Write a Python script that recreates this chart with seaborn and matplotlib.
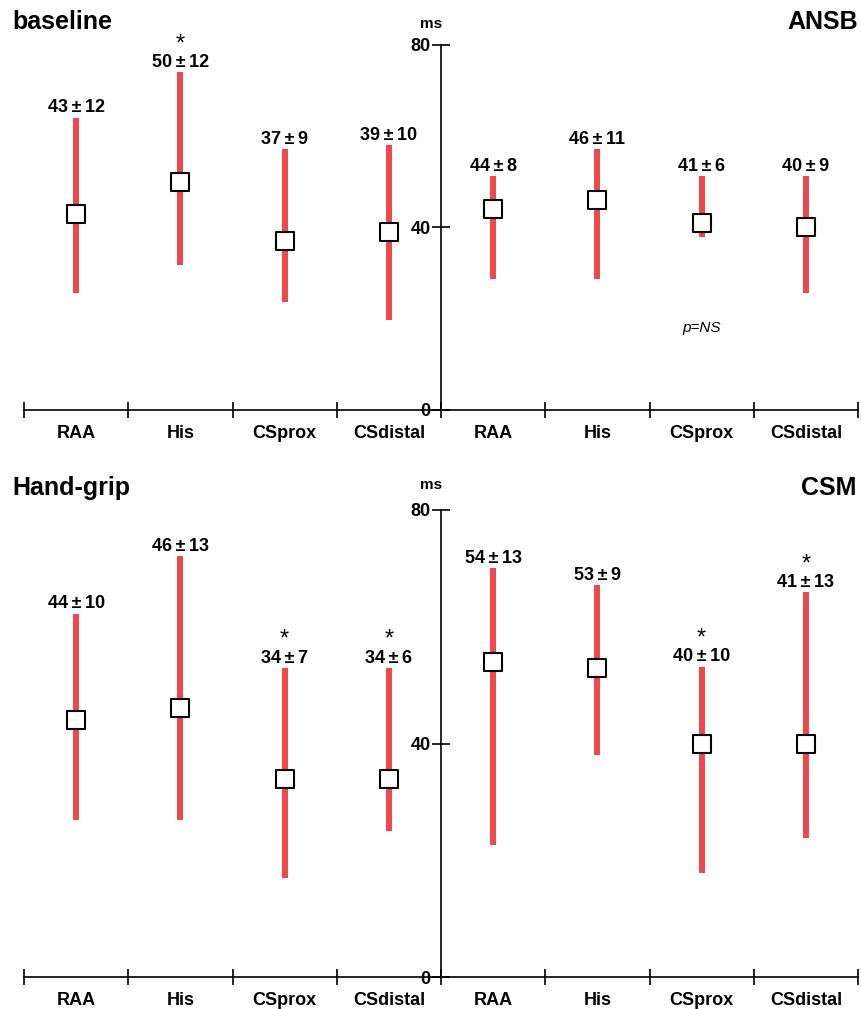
import numpy as np
import pandas as pd
import matplotlib
matplotlib.use("Agg")
import matplotlib.pyplot as plt
import seaborn as sns

# ---------------- data ----------------
categories = ["RAA", "His", "CSprox", "CSdistal", "RAA", "His", "CSprox", "CSdistal"]

# top panel: baseline (left 4) / ANSB (right 4)
top_mean = [43, 50, 37, 39, 44, 46, 41, 40]
top_sd = [12, 12, 9, 10, 8, 11, 6, 9]
top_low = [25.6, 31.7, 23.6, 19.7, 28.7, 28.7, 37.9, 25.6]
top_high = [64.1, 74.0, 57.1, 58.0, 51.2, 57.1, 51.2, 51.2]
top_star = [False, True, False, False, False, False, False, False]

# bottom panel: Hand-grip (left 4) / CSM (right 4)
bot_mean = [44, 46, 34, 34, 54, 53, 40, 41]
bot_sd = [10, 13, 7, 6, 13, 9, 10, 13]
bot_marker = [44, 46, 34, 34, 54, 53, 40, 40]
bot_low = [26.9, 26.9, 17.0, 25.0, 22.6, 38.0, 17.8, 23.8]
bot_high = [62.2, 72.1, 52.9, 52.9, 70.0, 67.1, 53.1, 65.9]
bot_star = [False, False, True, True, False, False, True, True]

y_ticks = [0, 40, 80]

# ---------------- style ----------------
sns.set_theme(style="white")
plt.rcParams["font.family"] = ["Liberation Sans", "DejaVu Sans"]
for k in ["text.color", "axes.labelcolor", "xtick.color", "ytick.color", "axes.edgecolor"]:
    plt.rcParams[k] = "black"

W, H = 861, 1009
fig = plt.figure(figsize=(W / 100, H / 100), dpi=100)

RED = "#EF474B"


def px_axes(x0, x1, y_bottom, y_top):
    return fig.add_axes([x0 / W, 1 - y_bottom / H, (x1 - x0) / W, (y_bottom - y_top) / H])


def draw_panel(ax, means, sds, markers, lows, highs, stars):
    xs = np.arange(len(categories)) + 0.5
    ax.vlines(xs, lows, highs, color=RED, lw=4.3, zorder=2)
    df = pd.DataFrame({"x": xs, "y": markers})
    sns.scatterplot(data=df, x="x", y="y", marker="s", s=175, facecolor="white",
                    edgecolor="black", linewidth=1.5, ax=ax, zorder=3, legend=False)
    for x, m, s, hi, st in zip(xs, means, sds, highs, stars):
        ax.annotate(f"{m}\u2009±\u2009{s}", (x, hi), xytext=(0, 4), textcoords="offset points",
                    ha="center", va="baseline", fontsize=13, fontweight="bold",
                    annotation_clip=False)
        if st:
            ax.annotate("*", (x, hi), xytext=(0, 16), textcoords="offset points",
                        ha="center", va="baseline", fontsize=17,
                        annotation_clip=False)
    ax.set_xlim(0, 8)
    ax.set_ylim(0, 80)
    ax.set_xlabel("")
    ax.set_ylabel("")
    for sp in ["top", "right"]:
        ax.spines[sp].set_visible(False)
    ax.spines["left"].set_position(("data", 4))
    for sp in ["left", "bottom"]:
        ax.spines[sp].set_linewidth(1.2)
        ax.spines[sp].set_color("black")
    ax.set_xticks(np.arange(0, 9))
    ax.set_xticklabels([])
    ax.set_xticks(xs, minor=True)
    ax.set_xticklabels(categories, minor=True, fontsize=13, fontweight="bold")
    ax.tick_params(axis="x", which="major", bottom=True, direction="inout", length=11,
                   width=1.2, color="black")
    ax.tick_params(axis="x", which="minor", bottom=True, length=0, pad=11)
    ax.set_yticks(y_ticks)
    ax.set_yticklabels([str(v) for v in y_ticks], fontsize=13, fontweight="bold")
    ax.tick_params(axis="y", left=True, direction="inout", length=13, width=1.2,
                   color="black", pad=1)
    ax.text(3.9, 83, "ms", ha="center", va="bottom", fontsize=11, fontweight="bold")
    ax.patch.set_alpha(0)
    return ax


ax1 = px_axes(24, 858, 410, 45)
draw_panel(ax1, top_mean, top_sd, top_mean, top_low, top_high, top_star)
fig.text(12 / W, 1 - 22 / H, "baseline", fontsize=18, fontweight="bold", ha="left", va="center")
fig.text(858 / W, 1 - 22 / H, "ANSB", fontsize=18, fontweight="bold", ha="right", va="center")
ax1.text(6.5, 18, "p=NS", fontsize=11, style="italic", ha="center", va="center")

ax2 = px_axes(24, 858, 977, 510)
draw_panel(ax2, bot_mean, bot_sd, bot_marker, bot_low, bot_high, bot_star)
fig.text(12 / W, 1 - 488 / H, "Hand-grip", fontsize=18, fontweight="bold", ha="left", va="center")
fig.text(856 / W, 1 - 488 / H, "CSM", fontsize=18, fontweight="bold", ha="right", va="center")

fig.savefig("out.png", dpi=100)
